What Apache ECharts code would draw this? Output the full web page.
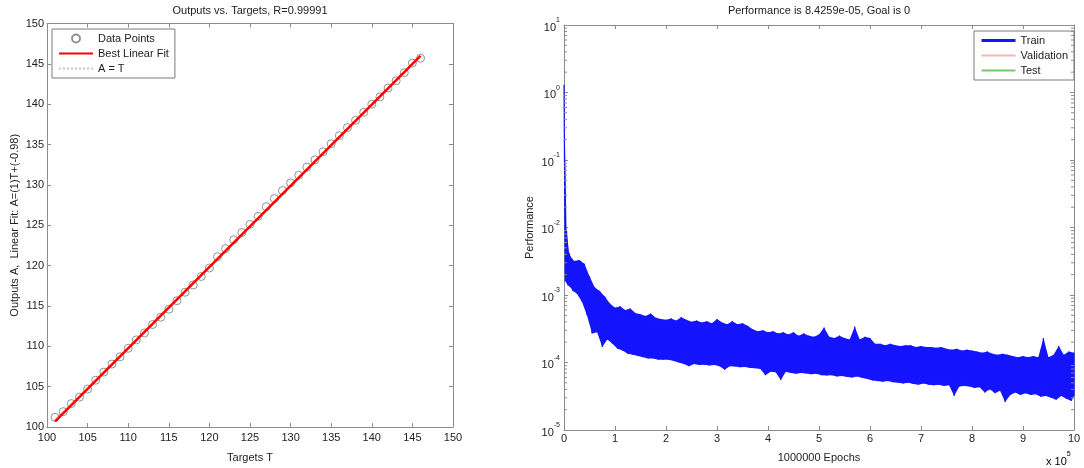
<!DOCTYPE html>
<html>
<head>
<meta charset="utf-8">
<script src="https://cdn.jsdelivr.net/npm/echarts@6/dist/echarts.min.js"></script>
<style>
  html, body { margin: 0; padding: 0; background: #fff; }
  #chart { width: 1084px; height: 468px; }
</style>
</head>
<body>
<div id="chart"></div>
<script>
// ---- Regression panel: network outputs against targets ----
const targets = [101, 102, 103, 104, 105, 106, 107, 108, 109, 110,
                 111, 112, 113, 114, 115, 116, 117, 118, 119, 120,
                 121, 122, 123, 124, 125, 126, 127, 128, 129, 130,
                 131, 132, 133, 134, 135, 136, 137, 138, 139, 140,
                 141, 142, 143, 144, 145, 146];
const outputs = [101.2, 101.9, 102.9, 103.7, 104.7, 105.8, 106.8, 107.8, 108.7, 109.75,
                 110.8, 111.65, 112.7, 113.6, 114.6, 115.65, 116.7, 117.6, 118.65, 119.7,
                 121.1, 122.1, 123.2, 124.1, 125.1, 126.1, 127.3, 128.3, 129.3, 130.25,
                 131.2, 132.2, 133.1, 134.1, 135.1, 136.1, 137.1, 138.0, 139.0, 140.0,
                 140.9, 142.0, 142.9, 143.9, 145.1, 145.7];
const fitSlope = 1.0066;
const fitIntercept = -0.98;
const regressionR = 0.99991;
const regAxisMin = 100, regAxisMax = 150, regAxisStep = 5;

// ---- Training record: upper / lower envelope of the per-epoch performance ----
const trainEpochs = [0, 5000, 10000, 15000, 20000,
  30000, 40000, 50000, 60000, 70000, 80000, 90000, 100000,
  110000, 120000, 130000, 140000, 150000, 160000, 170000, 180000, 190000, 200000,
  210000, 220000, 230000, 240000, 250000, 260000, 270000, 280000, 290000, 300000,
  310000, 320000, 330000, 340000, 350000, 360000, 370000, 380000, 390000, 400000,
  410000, 420000, 430000, 440000, 450000, 460000, 470000, 480000, 490000, 500000,
  510000, 520000, 530000, 540000, 550000, 560000, 570000, 580000, 590000, 600000,
  610000, 620000, 630000, 640000, 650000, 660000, 670000, 680000, 690000, 700000,
  710000, 720000, 730000, 740000, 750000, 760000, 770000, 780000, 790000, 800000,
  810000, 820000, 830000, 840000, 850000, 860000, 870000, 880000, 890000, 900000,
  910000, 920000, 930000, 940000, 950000, 960000, 970000, 980000, 990000, 1000000];
const trainHigh = [1.3, 9.0e-3, 4.2e-3, 3.5e-3, 3.2e-3,
  3.3e-3, 2.9e-3, 1.9e-3, 1.3e-3, 1.15e-3, 9.5e-4, 7.5e-4, 6.5e-4,
  6.8e-4, 6.0e-4, 6.3e-4, 5.4e-4, 5.2e-4, 4.9e-4, 5.3e-4, 4.6e-4, 4.4e-4, 4.3e-4,
  4.5e-4, 4.2e-4, 4.7e-4, 4.3e-4, 4.0e-4, 4.2e-4, 3.9e-4, 4.1e-4, 3.8e-4, 4.4e-4,
  3.9e-4, 3.7e-4, 4.1e-4, 3.7e-4, 3.8e-4, 3.5e-4, 3.1e-4, 2.9e-4, 3.0e-4, 2.8e-4,
  2.9e-4, 2.7e-4, 2.8e-4, 2.6e-4, 2.8e-4, 2.5e-4, 2.7e-4, 2.5e-4, 2.4e-4, 2.6e-4,
  3.3e-4, 2.4e-4, 2.3e-4, 2.5e-4, 2.3e-4, 2.2e-4, 3.4e-4, 2.2e-4, 2.4e-4, 2.3e-4,
  1.9e-4, 1.9e-4, 1.8e-4, 1.9e-4, 1.8e-4, 1.75e-4, 1.8e-4, 1.8e-4, 1.7e-4, 1.75e-4,
  1.7e-4, 1.7e-4, 1.65e-4, 1.7e-4, 1.6e-4, 1.55e-4, 1.6e-4, 1.5e-4, 1.55e-4, 1.5e-4,
  1.45e-4, 1.4e-4, 1.45e-4, 1.35e-4, 1.3e-4, 1.35e-4, 1.3e-4, 1.25e-4, 1.2e-4, 1.25e-4,
  1.2e-4, 1.25e-4, 1.2e-4, 2.3e-4, 1.2e-4, 1.3e-4, 1.75e-4, 1.3e-4, 1.45e-4, 1.4e-4];
const trainLow = [1.6e-3, 1.4e-3, 1.3e-3, 1.15e-3, 1.05e-3,
  8.0e-4, 5.0e-4, 2.7e-4, 2.8e-4, 1.7e-4, 2.2e-4, 1.9e-4, 1.6e-4,
  1.5e-4, 1.35e-4, 1.3e-4, 1.25e-4, 1.2e-4, 1.15e-4, 1.15e-4, 1.1e-4, 1.1e-4, 1.1e-4,
  1.05e-4, 1.0e-4, 9.5e-5, 8.8e-5, 9.5e-5, 9.2e-5, 9.3e-5, 9.0e-5, 9.2e-5, 8.8e-5,
  7.8e-5, 8.8e-5, 8.7e-5, 8.5e-5, 8.6e-5, 8.3e-5, 8.2e-5, 8.0e-5, 6.5e-5, 7.3e-5,
  7.2e-5, 5.5e-5, 7.3e-5, 7.0e-5, 6.8e-5, 7.0e-5, 6.9e-5, 6.7e-5, 6.8e-5, 6.5e-5,
  6.4e-5, 6.5e-5, 6.2e-5, 6.3e-5, 6.1e-5, 6.0e-5, 6.2e-5, 5.9e-5, 5.7e-5, 5.4e-5,
  5.3e-5, 5.2e-5, 5.3e-5, 5.1e-5, 5.0e-5, 4.9e-5, 5.0e-5, 4.8e-5, 4.7e-5, 4.9e-5,
  4.7e-5, 4.6e-5, 4.7e-5, 4.5e-5, 4.6e-5, 3.2e-5, 4.4e-5, 4.5e-5, 4.4e-5, 4.2e-5,
  4.3e-5, 3.6e-5, 4.0e-5, 3.5e-5, 3.8e-5, 2.6e-5, 3.3e-5, 3.6e-5, 3.3e-5, 3.5e-5,
  3.3e-5, 3.4e-5, 3.1e-5, 3.2e-5, 3.0e-5, 2.8e-5, 3.2e-5, 2.9e-5, 2.7e-5, 3.2e-5];
const finalPerformance = 8.4259e-05;
const goal = 0;
const totalEpochs = 1000000;
const epochTickStep = 100000;
const perfMin = 1e-5, perfMax = 10;

// ---- helpers ----
const FONT = 'Liberation Sans, Arial, Helvetica, sans-serif';
const AXIS_GRAY = '#8c8c8c';
const TEXT = '#222';
const TRAIN_BLUE = '#1414ff';

function twoSig(v) { return String(Number(v.toPrecision(2))); }
function matlabExp(v) {
  const [m, e] = v.toExponential(4).split('e');
  const n = Math.abs(parseInt(e, 10));
  return m + 'e' + (e[0] === '-' ? '-' : '+') + (n < 10 ? '0' : '') + n;
}

// fitted line and identity line over the target range
const fitLine = [targets[0], targets[targets.length - 1]].map(t => [t, fitSlope * t + fitIntercept]);
const identityLine = [targets[0], targets[targets.length - 1]].map(t => [t, t]);
const scatterData = targets.map((t, i) => [t, outputs[i]]);

// epoch positions of the lower-edge samples (half way to the next sample)
const lowEpochs = trainEpochs.map((e, i) => i + 1 < trainEpochs.length ? (e + trainEpochs[i + 1]) / 2 : e);

// training trace: alternates between the upper and lower edge of the band
const trainData = [];
for (let i = 0; i < trainEpochs.length; i++) {
  trainData.push([trainEpochs[i], trainHigh[i]]);
  trainData.push([lowEpochs[i], trainLow[i]]);
}
trainData.push([totalEpochs, finalPerformance]);

// minor ticks of the log axis (2..9 within every decade)
const minorTicks = [];
for (let k = Math.round(Math.log10(perfMin)); k < Math.round(Math.log10(perfMax)); k++) {
  for (let m = 2; m <= 9; m++) minorTicks.push([0, m * Math.pow(10, k)]);
}

const grids = [
  { left: 47, top: 23.5, width: 406, height: 404 },
  { left: 564, top: 25, width: 510, height: 405 }
];

function frameAxis(extra) {
  return Object.assign({
    axisLine: { show: true, onZero: false, lineStyle: { color: AXIS_GRAY, width: 1 } },
    axisTick: { show: true, inside: true, length: 4, lineStyle: { color: AXIS_GRAY } },
    splitLine: { show: false },
    axisLabel: { color: TEXT, fontSize: 11, fontFamily: FONT }
  }, extra);
}

const chart = echarts.init(document.getElementById('chart'), null, { renderer: 'canvas' });

const supRich = {
  b: { fontSize: 11, fontFamily: FONT, color: TEXT, lineHeight: 16, verticalAlign: 'bottom' },
  s: { fontSize: 7, fontFamily: FONT, color: TEXT, lineHeight: 16, verticalAlign: 'top' }
};

const lineOnlyIcon = { opacity: 0 };

const option = {
  animation: false,
  backgroundColor: '#fff',
  textStyle: { fontFamily: FONT },
  grid: grids,
  xAxis: [
    frameAxis({ gridIndex: 0, type: 'value', position: 'bottom', min: regAxisMin, max: regAxisMax, interval: regAxisStep,
      axisLabel: { color: TEXT, fontSize: 11, fontFamily: FONT, margin: 5 },
      name: 'Targets T', nameLocation: 'middle', nameGap: 25,
      nameTextStyle: { color: TEXT, fontSize: 11, fontFamily: FONT } }),
    frameAxis({ gridIndex: 0, type: 'value', position: 'top', min: regAxisMin, max: regAxisMax, interval: regAxisStep,
      axisLabel: { show: false } }),
    frameAxis({ gridIndex: 1, type: 'value', position: 'bottom', min: 0, max: totalEpochs, interval: epochTickStep,
      axisLabel: { color: TEXT, fontSize: 11, fontFamily: FONT, margin: 3, formatter: v => String(v / epochTickStep) },
      name: totalEpochs + ' Epochs', nameLocation: 'middle', nameGap: 22,
      nameTextStyle: { color: TEXT, fontSize: 11, fontFamily: FONT } }),
    frameAxis({ gridIndex: 1, type: 'value', position: 'top', min: 0, max: totalEpochs, interval: epochTickStep,
      axisLabel: { show: false } })
  ],
  yAxis: [
    frameAxis({ gridIndex: 0, type: 'value', position: 'left', min: regAxisMin, max: regAxisMax, interval: regAxisStep,
      axisLabel: { color: TEXT, fontSize: 11, fontFamily: FONT, margin: 3 },
      name: 'Outputs A,  Linear Fit: A=(' + twoSig(fitSlope) + ')T+(' + twoSig(fitIntercept) + ')',
      nameLocation: 'middle', nameGap: 27, nameRotate: 90,
      nameTextStyle: { color: TEXT, fontSize: 11, fontFamily: FONT } }),
    frameAxis({ gridIndex: 0, type: 'value', position: 'right', min: regAxisMin, max: regAxisMax, interval: regAxisStep,
      axisLabel: { show: false } }),
    frameAxis({ gridIndex: 1, type: 'log', logBase: 10, position: 'left', min: perfMin, max: perfMax, splitNumber: 6,
      axisLabel: { margin: 4, formatter: v => '{b|10}{s|' + Math.round(Math.log10(v)) + '}', rich: supRich },
      name: 'Performance', nameLocation: 'middle', nameGap: 29, nameRotate: 90,
      nameTextStyle: { color: TEXT, fontSize: 11, fontFamily: FONT } }),
    frameAxis({ gridIndex: 1, type: 'log', logBase: 10, position: 'right', min: perfMin, max: perfMax, splitNumber: 6,
      axisLabel: { show: false } })
  ],
  legend: [
    {
      orient: 'vertical', left: 52, top: 29, padding: [4, 6, 4, 6], itemGap: 4,
      itemWidth: 34, itemHeight: 8, borderColor: '#7a7a7a', borderWidth: 1, backgroundColor: '#fff',
      textStyle: { color: TEXT, fontSize: 11, fontFamily: FONT },
      data: [
        'Data Points',
        { name: 'Best Linear Fit', itemStyle: lineOnlyIcon },
        { name: 'A = T', itemStyle: lineOnlyIcon }
      ]
    },
    {
      orient: 'vertical', left: 974, top: 31, padding: [4, 6, 4, 6], itemGap: 4,
      itemWidth: 34, itemHeight: 8, borderColor: '#7a7a7a', borderWidth: 1, backgroundColor: '#fff',
      textStyle: { color: TEXT, fontSize: 11, fontFamily: FONT },
      data: [
        { name: 'Train', itemStyle: lineOnlyIcon, lineStyle: { width: 3 } },
        { name: 'Validation', itemStyle: lineOnlyIcon },
        { name: 'Test', itemStyle: lineOnlyIcon }
      ]
    }
  ],
  graphic: [
    { type: 'text', x: 250, y: 11, style: { text: 'Outputs vs. Targets, R=' + regressionR, textAlign: 'center', textVerticalAlign: 'middle', font: '11px ' + FONT, fill: TEXT } },
    { type: 'text', x: 819, y: 11, style: { text: 'Performance is ' + matlabExp(finalPerformance) + ', Goal is ' + goal, textAlign: 'center', textVerticalAlign: 'middle', font: '11px ' + FONT, fill: TEXT } },
    { type: 'text', x: 1046, y: 451, style: { text: '{b|x 10}{s|5}', rich: supRich } }
  ],
  series: [
    {
      name: 'A = T', type: 'line', xAxisIndex: 0, yAxisIndex: 0, data: identityLine,
      symbol: 'none', z: 1, lineStyle: { color: '#c8c8c8', width: 1, type: 'dotted' }, itemStyle: { color: '#c8c8c8' }
    },
    {
      name: 'Data Points', type: 'scatter', xAxisIndex: 0, yAxisIndex: 0, data: scatterData,
      symbol: 'circle', symbolSize: 8, z: 2,
      itemStyle: { color: 'rgba(255,255,255,0)', borderColor: '#777', borderWidth: 1 }
    },
    {
      name: 'Best Linear Fit', type: 'line', xAxisIndex: 0, yAxisIndex: 0, data: fitLine,
      symbol: 'none', z: 3, lineStyle: { color: '#ff0000', width: 2.5 }, itemStyle: { color: '#ff0000' }
    },
    {
      // solid body of the training band, bounded by the upper and lower edge samples
      type: 'custom', xAxisIndex: 2, yAxisIndex: 2, data: [[0, perfMin]], silent: true, z: 2,
      renderItem: function (params, api) {
        const pts = [];
        for (let i = 0; i < trainEpochs.length; i++) pts.push(api.coord([trainEpochs[i], trainHigh[i]]));
        for (let i = trainEpochs.length - 1; i >= 0; i--) pts.push(api.coord([lowEpochs[i], trainLow[i]]));
        return { type: 'polygon', shape: { points: pts }, style: { fill: TRAIN_BLUE, stroke: null } };
      }
    },
    {
      name: 'Train', type: 'line', xAxisIndex: 2, yAxisIndex: 2, data: trainData,
      symbol: 'none', sampling: null, z: 3, lineStyle: { color: TRAIN_BLUE, width: 1.2 }, itemStyle: { color: TRAIN_BLUE }
    },
    {
      name: 'Validation', type: 'line', xAxisIndex: 2, yAxisIndex: 2, data: [],
      symbol: 'none', lineStyle: { color: '#ffb4b4', width: 1.5 }, itemStyle: { color: '#ffb4b4' }
    },
    {
      name: 'Test', type: 'line', xAxisIndex: 2, yAxisIndex: 2, data: [],
      symbol: 'none', lineStyle: { color: '#74c874', width: 1.5 }, itemStyle: { color: '#74c874' }
    },
    {
      // minor log ticks on both vertical edges of the performance plot
      type: 'custom', xAxisIndex: 2, yAxisIndex: 2, data: minorTicks, silent: true, z: 5,
      renderItem: function (params, api) {
        const v = api.value(1);
        const pl = api.coord([0, v]);
        const pr = api.coord([totalEpochs, v]);
        return {
          type: 'group',
          children: [
            { type: 'line', shape: { x1: pl[0], y1: pl[1], x2: pl[0] + 3, y2: pl[1] }, style: { stroke: AXIS_GRAY, lineWidth: 1 } },
            { type: 'line', shape: { x1: pr[0] - 3, y1: pr[1], x2: pr[0], y2: pr[1] }, style: { stroke: AXIS_GRAY, lineWidth: 1 } }
          ]
        };
      }
    }
  ]
};

chart.setOption(option);
</script>
</body>
</html>
